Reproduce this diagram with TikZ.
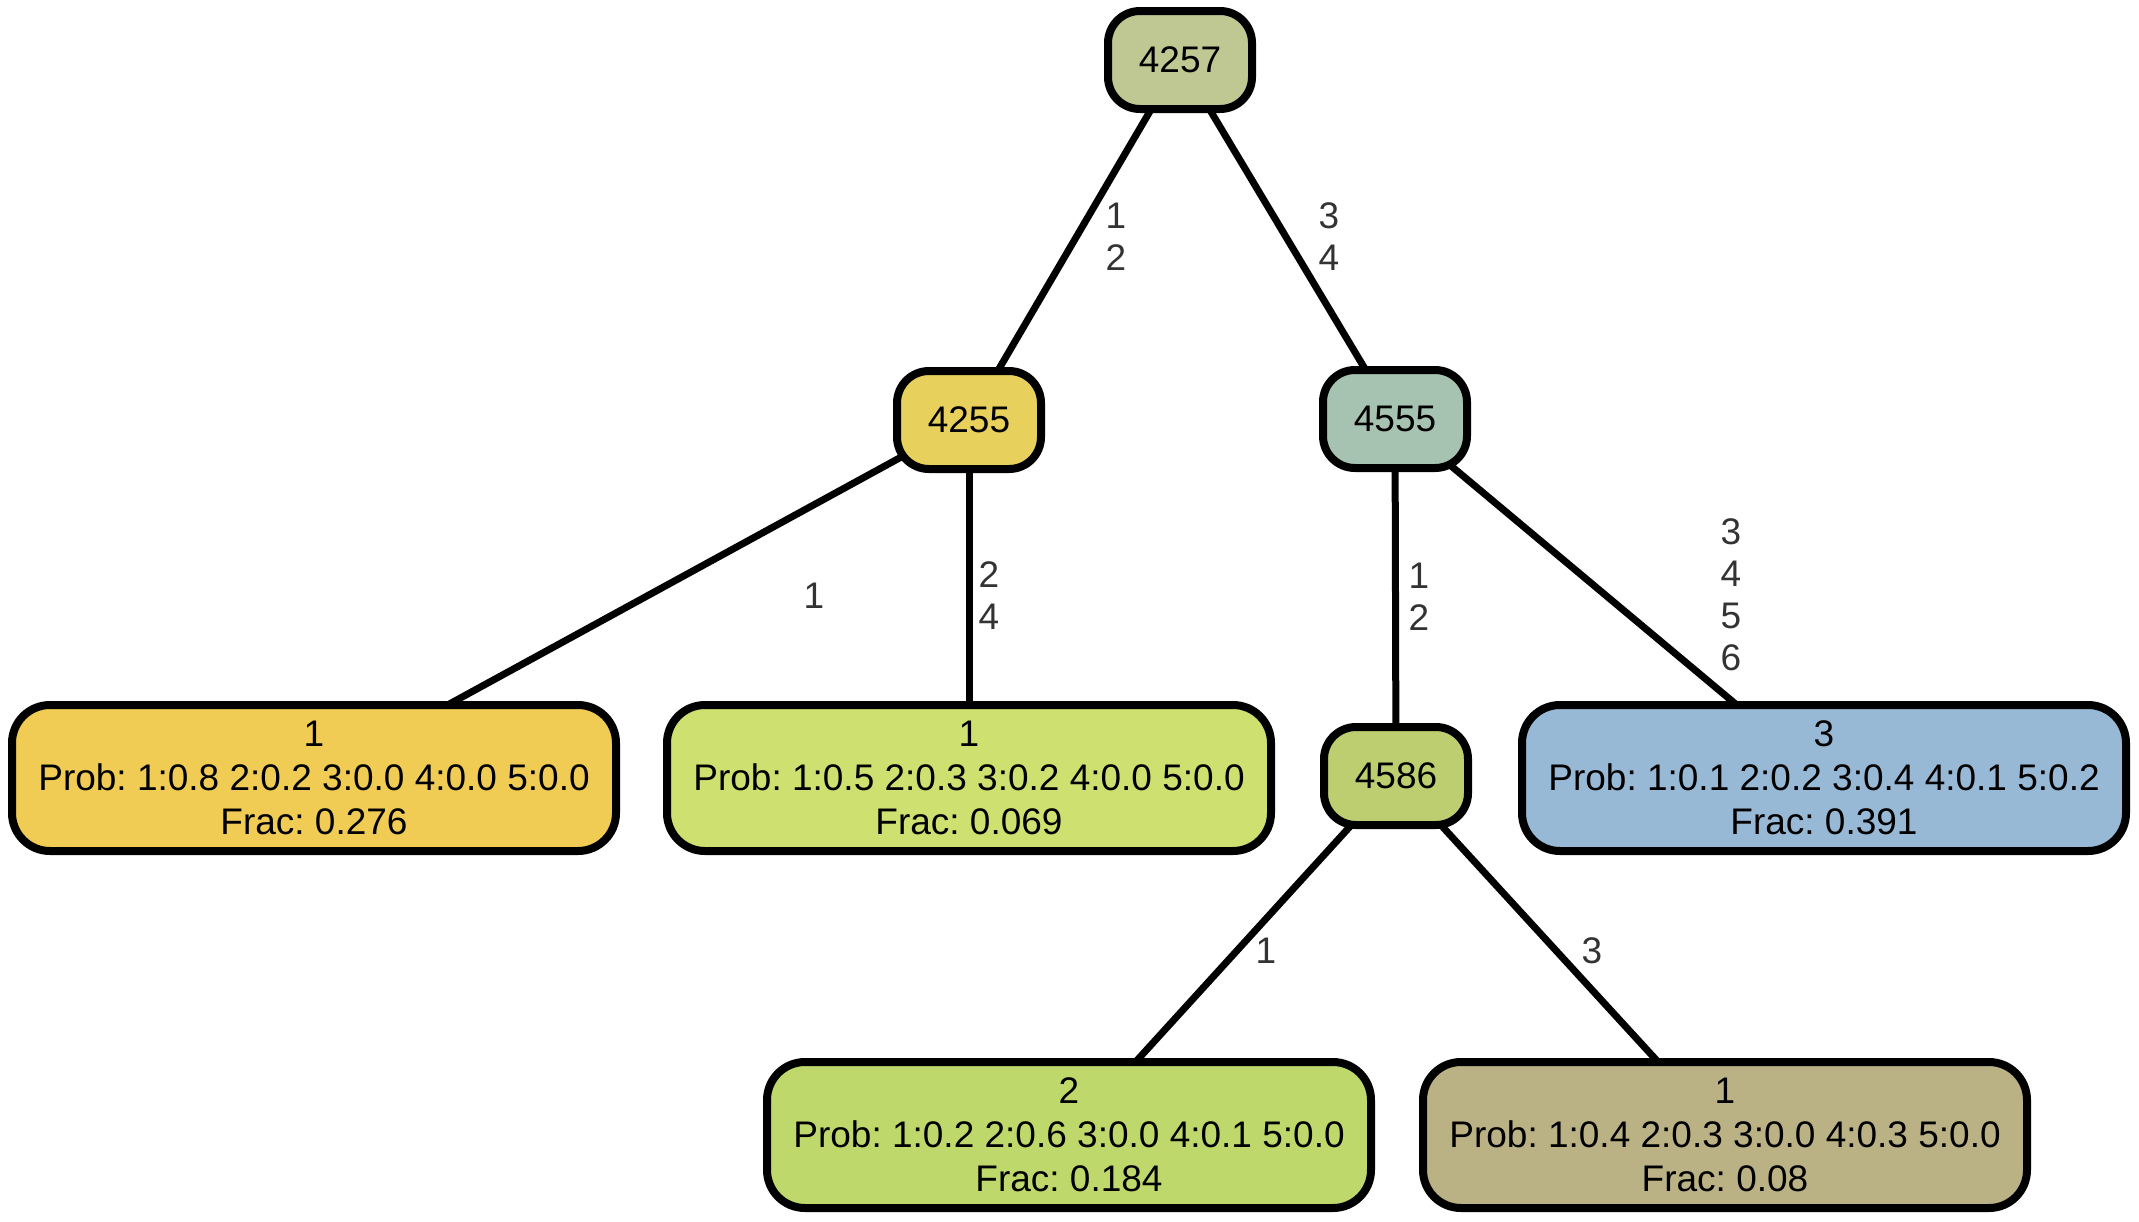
\documentclass[tikz,border=0pt]{standalone}
\usepackage{fontspec}
\setmainfont{Liberation Sans}
\usetikzlibrary{backgrounds}
\frenchspacing

\definecolor{cTop}{HTML}{BFC792}
\definecolor{cA}{HTML}{E8D05C}
\definecolor{cB}{HTML}{A6C2B0}
\definecolor{cC}{HTML}{BDCE70}
\definecolor{cLeafA}{HTML}{F0CC55}
\definecolor{cLeafB}{HTML}{CDE070}
\definecolor{cLeafC}{HTML}{98B9D6}
\definecolor{cLeafD}{HTML}{BFD86B}
\definecolor{cLeafE}{HTML}{BAB184}
\definecolor{lblgray}{HTML}{333333}

\tikzset{
  treenode/.style={draw=black, line width=8pt, align=center, inner sep=0pt,
    font=\fontsize{37}{44}\selectfont},
  inner/.style={treenode, rounded corners=32pt, minimum width=144pt, minimum height=98pt},
  leaf/.style={treenode, rounded corners=38pt, minimum width=604pt, minimum height=146pt},
  link/.style={line width=7pt, draw=black},
  lbl/.style={text=lblgray, align=center, inner sep=0pt,
    font=\fontsize{37}{42}\selectfont}
}

\begin{document}
\begin{tikzpicture}[x=1pt, y=-1pt]
\useasboundingbox (0,0) rectangle (2139,1221);

% internal nodes
\node[inner, fill=cTop] (n4257) at (1180,60) {4257};
\node[inner, fill=cA]   (n4255) at (969,420) {4255};
\node[inner, fill=cB]   (n4555) at (1395,419) {4555};
\node[inner, fill=cC]   (n4586) at (1396,776) {4586};

% leaves
\node[leaf, fill=cLeafA] (l1) at (314,778)  {1\\Prob: 1:0.8 2:0.2 3:0.0 4:0.0 5:0.0\\Frac: 0.276};
\node[leaf, fill=cLeafB] (l2) at (969,778)  {1\\Prob: 1:0.5 2:0.3 3:0.2 4:0.0 5:0.0\\Frac: 0.069};
\node[leaf, fill=cLeafC] (l3) at (1824,778) {3\\Prob: 1:0.1 2:0.2 3:0.4 4:0.1 5:0.2\\Frac: 0.391};
\node[leaf, fill=cLeafD] (l4) at (1069,1135) {2\\Prob: 1:0.2 2:0.6 3:0.0 4:0.1 5:0.0\\Frac: 0.184};
\node[leaf, fill=cLeafE] (l5) at (1725,1135) {1\\Prob: 1:0.4 2:0.3 3:0.0 4:0.3 5:0.0\\Frac: 0.08};

% connectors, drawn beneath the boxes
\begin{scope}[on background layer]
  \fill[white] (0,0) rectangle (2139,1221);
  \draw[link] (n4257.center) -- (n4255.center);
  \draw[link] (n4257.center) -- (n4555.center);
  \draw[link] (n4255.center) -- (l1.center);
  \draw[link] (n4255.center) -- (l2.center);
  \draw[link] (n4555.center) -- (n4586.center);
  \draw[link] (n4555.center) -- (l3.center);
  \draw[link] (n4586.center) -- (l4.center);
  \draw[link] (n4586.center) -- (l5.center);
\end{scope}

% connector labels
\node[lbl] (t1) at (1116,237) {1\\2};
\node[lbl] (t2) at (1329,237) {3\\4};
\node[lbl] (t3) at (814,596)  {1};
\node[lbl] (t4) at (989,596)  {2\\4};
\node[lbl] (t5) at (1419,597) {1\\2};
\node[lbl] (t6) at (1731,595) {3\\4\\5\\6};
\node[lbl] (t7) at (1266,951) {1};
\node[lbl] (t8) at (1592,951) {3};
\end{tikzpicture}
\end{document}
